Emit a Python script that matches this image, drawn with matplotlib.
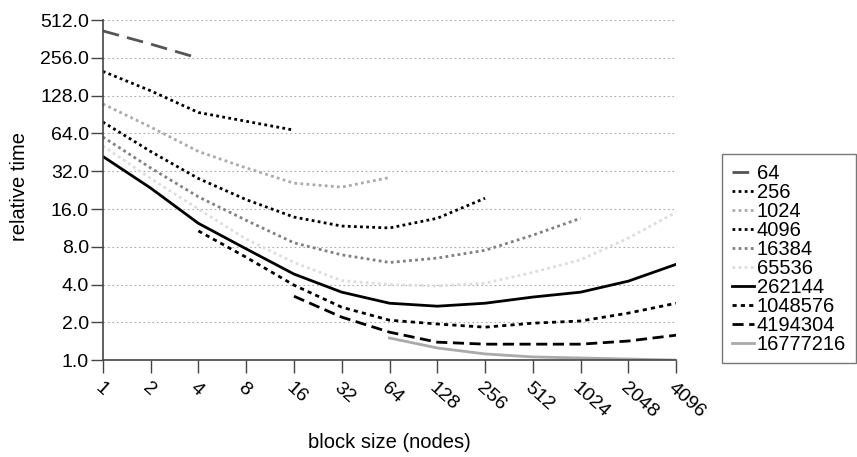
import matplotlib
matplotlib.use('Agg')
import matplotlib.pyplot as plt
from matplotlib.ticker import FixedLocator, NullLocator

plt.rcParams['font.family'] = ['Liberation Sans', 'DejaVu Sans']

# block sizes (x) and relative time per problem size
block_sizes = [1, 2, 4, 8, 16, 32, 64, 128, 256, 512, 1024, 2048, 4096]
x_labels = [str(b) for b in block_sizes]
y_ticks = [1, 2, 4, 8, 16, 32, 64, 128, 256, 512]

s64 = {'x': [1, 2, 4], 'y': [420, 330, 255]}
s256 = {'x': [1, 2, 4, 8, 16], 'y': [200, 140, 94, 80, 68]}
s1024 = {'x': [1, 2, 4, 8, 16, 32, 64], 'y': [110, 72, 46, 34, 25.7, 23.9, 28.5]}
s4096 = {'x': [1, 2, 4, 8, 16, 32, 64, 128, 256],
         'y': [79, 46, 28, 19, 13.8, 11.7, 11.3, 13.5, 19.5]}
s16384 = {'x': [1, 2, 4, 8, 16, 32, 64, 128, 256, 512, 1024],
          'y': [60, 34, 20, 13, 8.6, 6.9, 6.0, 6.5, 7.5, 9.9, 13.5]}
s65536 = {'x': block_sizes,
          'y': [51, 28, 16, 9.2, 6.0, 4.3, 4.0, 3.9, 4.1, 5.0, 6.3, 9.4, 15.1]}
s262144 = {'x': block_sizes,
           'y': [42, 23.5, 12.3, 7.7, 4.85, 3.48, 2.84, 2.69, 2.84, 3.18, 3.48, 4.26, 5.8]}
s1048576 = {'x': block_sizes[2:],
            'y': [10.7, 6.6, 3.96, 2.64, 2.08, 1.94, 1.83, 1.97, 2.05, 2.37, 2.84]}
s4194304 = {'x': block_sizes[4:],
            'y': [3.23, 2.2, 1.67, 1.39, 1.34, 1.34, 1.34, 1.42, 1.58]}
s16777216 = {'x': block_sizes[6:],
             'y': [1.5, 1.25, 1.12, 1.06, 1.04, 1.02, 1.0]}

series = [
    ('64', s64, '#555555', (0, (6, 3))),
    ('256', s256, '#000000', (0, (1, 1.2))),
    ('1024', s1024, '#aaaaaa', (0, (1, 1.2))),
    ('4096', s4096, '#000000', (0, (1, 1.2))),
    ('16384', s16384, '#808080', (0, (1, 1.2))),
    ('65536', s65536, '#dddddd', (0, (1, 1.2))),
    ('262144', s262144, '#000000', '-'),
    ('1048576', s1048576, '#000000', (0, (1.5, 1.5))),
    ('4194304', s4194304, '#000000', (0, (4, 2))),
    ('16777216', s16777216, '#aaaaaa', '-'),
]

fig = plt.figure(figsize=(8.57, 4.57), dpi=100)
ax = fig.add_axes([0.120, 0.212, 0.669, 0.744])

for label, s, color, ls in series:
    ax.plot(s['x'], s['y'], color=color, linestyle=ls, linewidth=2, label=label)

ax.set_xscale('log', base=2)
ax.set_yscale('log', base=2)
ax.set_xlim(1, 4096)
ax.set_ylim(1, 512)

ax.xaxis.set_major_locator(FixedLocator(block_sizes))
ax.xaxis.set_minor_locator(NullLocator())
ax.set_xticklabels(x_labels, rotation=-42, ha='left', va='top', rotation_mode='anchor')
ax.yaxis.set_major_locator(FixedLocator(y_ticks))
ax.yaxis.set_minor_locator(NullLocator())
ax.set_yticklabels(['%.1f' % v for v in y_ticks])

ax.tick_params(axis='x', length=9.5, width=1, color='#444444', labelsize=14, pad=4)
ax.tick_params(axis='y', length=9, width=1, color='#444444', labelsize=14, pad=1)

for side in ['top', 'right']:
    ax.spines[side].set_visible(False)
for side in ['left', 'bottom']:
    ax.spines[side].set_color('#444444')
    ax.spines[side].set_linewidth(1.2)

ax.grid(axis='y', color='#aaaaaa', linestyle=(0, (1.5, 2.5)), linewidth=0.8)
ax.set_axisbelow(True)

ax.set_xlabel('block size (nodes)', fontsize=14.5)
ax.xaxis.set_label_coords(0.5, -0.215)
ax.set_ylabel('relative time', fontsize=14.5)
ax.yaxis.set_label_coords(-0.128, 0.51)

leg = ax.legend(loc='upper left', bbox_to_anchor=(722 / 857, 1 - 154 / 457),
                bbox_transform=fig.transFigure, borderaxespad=0,
                fontsize=14.5, handlelength=1.1, handletextpad=0.15,
                labelspacing=0.0, borderpad=0.48, frameon=True, fancybox=False)
leg.get_frame().set_edgecolor('#555555')
leg.get_frame().set_linewidth(1)

fig.savefig('out.png', dpi=100)
